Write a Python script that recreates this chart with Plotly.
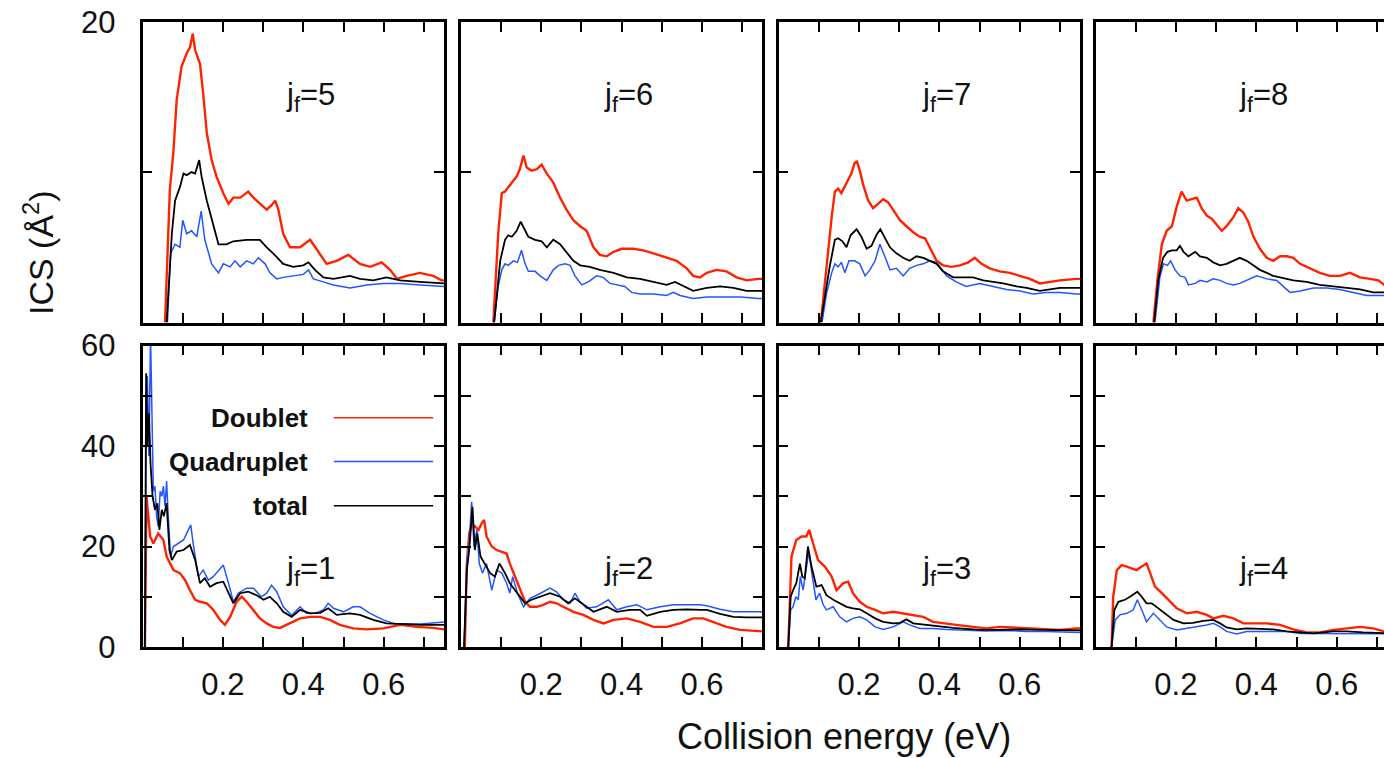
import plotly.graph_objects as go

# Integral cross sections (Å^2) versus collision energy (eV) for each final
# rotational state j_f, split into doublet / quadruplet contributions and total.

# ---------------- j_f = 5 ----------------
j5_doublet_e = [0.056, 0.068, 0.077, 0.085, 0.097, 0.110, 0.118, 0.125, 0.131, 0.143, 0.151, 0.160, 0.172, 0.184,
                0.201, 0.214, 0.226, 0.243, 0.263, 0.276, 0.292, 0.309, 0.321, 0.330, 0.338, 0.350, 0.367, 0.392,
                0.417, 0.433, 0.458, 0.483, 0.512, 0.541, 0.566, 0.595, 0.616, 0.633, 0.657, 0.690, 0.723, 0.744, 0.750]
j5_doublet = [0.0, 8.8, 11.4, 14.8, 17.0, 17.9, 18.3, 19.2, 18.1, 17.2, 15.2, 12.6, 10.8, 9.7,
              8.6, 7.9, 8.3, 8.3, 8.7, 8.3, 7.9, 7.5, 7.8, 8.1, 7.5, 5.9, 5.0, 5.0,
              5.5, 4.9, 3.9, 4.1, 4.5, 3.9, 3.7, 4.0, 3.5, 2.9, 3.1, 3.3, 3.1, 2.8, 2.8]
j5_quad_e = [0.062, 0.070, 0.081, 0.093, 0.100, 0.110, 0.122, 0.135, 0.146, 0.155, 0.172, 0.189, 0.201, 0.218,
             0.230, 0.243, 0.259, 0.276, 0.288, 0.305, 0.317, 0.334, 0.350, 0.375, 0.400, 0.413, 0.425, 0.450,
             0.475, 0.516, 0.558, 0.599, 0.641, 0.690, 0.744, 0.750]
j5_quad = [0.0, 4.6, 5.2, 5.0, 6.8, 5.9, 6.1, 5.7, 7.4, 5.5, 3.9, 3.3, 3.9, 3.7,
           4.1, 3.7, 4.1, 3.9, 4.3, 3.9, 3.3, 2.9, 3.0, 3.1, 3.2, 3.5, 2.9, 2.7,
           2.5, 2.3, 2.5, 2.6, 2.6, 2.5, 2.4, 2.4]
j5_total_e = [0.060, 0.073, 0.081, 0.093, 0.102, 0.110, 0.122, 0.131, 0.141, 0.147, 0.160, 0.176, 0.189, 0.209,
              0.226, 0.259, 0.292, 0.309, 0.325, 0.350, 0.375, 0.400, 0.413, 0.429, 0.450, 0.475, 0.516, 0.541,
              0.574, 0.607, 0.641, 0.690, 0.744, 0.750]
j5_total = [0.0, 5.9, 8.1, 9.0, 9.9, 9.8, 10.0, 9.9, 10.8, 9.7, 8.1, 6.4, 5.2, 5.2,
            5.4, 5.5, 5.5, 5.0, 4.6, 3.9, 3.7, 3.8, 4.0, 3.5, 3.0, 2.9, 3.1, 2.9,
            2.8, 3.0, 2.8, 2.7, 2.6, 2.6]

# ---------------- j_f = 6 ----------------
j6_doublet_e = [0.081, 0.093, 0.102, 0.110, 0.118, 0.127, 0.139, 0.147, 0.156, 0.164, 0.176, 0.189, 0.201, 0.214,
                0.230, 0.247, 0.263, 0.280, 0.297, 0.313, 0.330, 0.346, 0.363, 0.380, 0.400, 0.429, 0.454, 0.479,
                0.512, 0.537, 0.562, 0.578, 0.595, 0.612, 0.636, 0.661, 0.686, 0.711, 0.740, 0.750]
j6_doublet = [0.0, 5.9, 8.6, 8.7, 9.0, 9.3, 9.7, 10.2, 11.1, 10.3, 10.1, 10.2, 10.5, 9.9,
              9.3, 8.3, 7.5, 6.8, 6.4, 6.1, 5.0, 4.5, 4.4, 4.7, 4.9, 4.9, 4.8, 4.6,
              4.3, 4.1, 3.6, 3.1, 3.0, 3.3, 3.5, 3.4, 3.0, 2.8, 2.9, 2.9]
j6_quad_e = [0.083, 0.093, 0.102, 0.110, 0.118, 0.131, 0.141, 0.151, 0.160, 0.168, 0.185, 0.197, 0.214, 0.230,
             0.243, 0.259, 0.272, 0.284, 0.301, 0.317, 0.338, 0.354, 0.371, 0.388, 0.408, 0.425, 0.446, 0.479,
             0.512, 0.529, 0.545, 0.578, 0.612, 0.653, 0.695, 0.740, 0.750]
j6_quad = [0.0, 2.4, 3.5, 3.9, 3.8, 4.1, 4.0, 4.8, 3.9, 3.4, 3.4, 3.1, 2.8, 3.5,
           3.8, 3.9, 3.8, 3.1, 2.5, 2.7, 3.1, 3.0, 2.6, 2.5, 2.4, 2.0, 1.9, 1.9,
           1.8, 2.0, 1.8, 1.6, 1.7, 1.7, 1.7, 1.6, 1.6]
j6_total_e = [0.083, 0.098, 0.110, 0.118, 0.127, 0.139, 0.149, 0.160, 0.168, 0.185, 0.201, 0.214, 0.230, 0.247,
              0.263, 0.280, 0.297, 0.321, 0.346, 0.380, 0.413, 0.446, 0.479, 0.512, 0.533, 0.554, 0.578, 0.612,
              0.645, 0.678, 0.711, 0.740, 0.750]
j6_total = [0.0, 4.1, 5.5, 5.8, 5.7, 6.1, 6.7, 6.1, 5.7, 5.5, 5.4, 5.0, 5.5, 5.2,
            4.7, 4.1, 3.8, 3.7, 3.5, 3.3, 3.0, 2.9, 2.7, 2.5, 2.7, 2.4, 2.1, 2.3,
            2.4, 2.3, 2.1, 2.1, 2.1]

# ---------------- j_f = 7 ----------------
j7_doublet_e = [0.105, 0.119, 0.132, 0.140, 0.148, 0.156, 0.165, 0.173, 0.181, 0.189, 0.195, 0.202, 0.210, 0.223,
                0.235, 0.248, 0.260, 0.272, 0.285, 0.302, 0.318, 0.335, 0.351, 0.364, 0.376, 0.393, 0.409, 0.430,
                0.451, 0.472, 0.488, 0.505, 0.525, 0.550, 0.575, 0.600, 0.625, 0.650, 0.675, 0.700, 0.741, 0.750]
j7_doublet = [0.0, 3.7, 7.0, 8.7, 8.9, 8.6, 9.1, 9.5, 9.9, 10.6, 10.7, 10.1, 9.2, 8.1,
              7.6, 7.9, 8.2, 8.0, 7.5, 6.8, 6.4, 6.0, 5.7, 5.6, 5.0, 4.1, 3.8, 3.7,
              3.8, 4.0, 4.3, 3.9, 3.6, 3.4, 3.3, 3.1, 2.9, 2.6, 2.7, 2.8, 2.9, 2.9]
j7_quad_e = [0.108, 0.119, 0.132, 0.140, 0.148, 0.156, 0.165, 0.175, 0.189, 0.202, 0.215, 0.227, 0.240, 0.252,
             0.264, 0.277, 0.293, 0.310, 0.326, 0.343, 0.360, 0.376, 0.393, 0.401, 0.418, 0.442, 0.467, 0.500,
             0.534, 0.567, 0.600, 0.633, 0.666, 0.700, 0.741, 0.750]
j7_quad = [0.0, 1.9, 3.3, 3.9, 3.7, 4.0, 3.3, 4.1, 4.1, 3.9, 3.1, 3.5, 4.1, 5.2,
           4.4, 3.5, 3.6, 3.1, 3.6, 3.8, 3.9, 4.1, 4.0, 3.7, 3.1, 2.7, 2.4, 2.6,
           2.4, 2.2, 2.1, 1.9, 2.0, 2.0, 1.9, 1.9]
j7_total_e = [0.105, 0.115, 0.127, 0.140, 0.148, 0.159, 0.169, 0.179, 0.194, 0.206, 0.219, 0.231, 0.243, 0.253,
              0.264, 0.277, 0.293, 0.310, 0.326, 0.343, 0.360, 0.376, 0.393, 0.409, 0.434, 0.459, 0.484, 0.509,
              0.534, 0.559, 0.592, 0.617, 0.650, 0.675, 0.700, 0.741, 0.750]
j7_total = [0.0, 1.7, 3.7, 5.5, 5.6, 5.4, 5.0, 5.8, 6.2, 5.7, 4.9, 5.1, 5.8, 6.2,
            5.6, 5.0, 4.6, 4.3, 4.1, 4.4, 4.3, 4.1, 3.9, 3.4, 3.0, 3.0, 3.0, 2.8,
            2.7, 2.6, 2.4, 2.3, 2.1, 2.2, 2.3, 2.3, 2.3]

# ---------------- j_f = 8 ----------------
j8_doublet_e = [0.144, 0.154, 0.165, 0.177, 0.190, 0.202, 0.214, 0.227, 0.239, 0.252, 0.264, 0.277, 0.289, 0.301,
                0.314, 0.326, 0.343, 0.355, 0.368, 0.380, 0.393, 0.409, 0.426, 0.442, 0.459, 0.476, 0.492, 0.509,
                0.534, 0.558, 0.583, 0.608, 0.633, 0.658, 0.683, 0.704, 0.718, 0.750]
j8_doublet = [0.0, 2.8, 5.2, 6.1, 6.4, 7.7, 8.7, 8.1, 8.2, 8.3, 7.6, 7.1, 6.9, 6.5,
              6.1, 6.4, 7.0, 7.6, 7.3, 6.7, 5.7, 4.9, 4.3, 4.1, 4.4, 4.4, 4.3, 3.9,
              3.6, 3.3, 3.1, 3.1, 3.3, 3.0, 2.9, 2.8, 2.5, 2.5]
j8_quad_e = [0.148, 0.160, 0.169, 0.179, 0.187, 0.198, 0.210, 0.223, 0.231, 0.248, 0.260, 0.277, 0.293, 0.310,
             0.326, 0.343, 0.359, 0.376, 0.401, 0.426, 0.451, 0.467, 0.484, 0.509, 0.542, 0.575, 0.608, 0.641,
             0.675, 0.718, 0.750]
j8_quad = [0.0, 3.0, 3.9, 3.8, 4.1, 3.5, 3.1, 3.0, 2.5, 2.6, 2.8, 2.7, 2.9, 2.8,
           2.6, 2.5, 2.6, 2.8, 3.1, 2.9, 2.8, 2.4, 2.0, 2.1, 2.3, 2.3, 2.2, 2.0,
           1.8, 1.8, 1.8]
j8_total_e = [0.146, 0.156, 0.168, 0.179, 0.190, 0.202, 0.210, 0.219, 0.231, 0.248, 0.260, 0.277, 0.293, 0.310,
              0.326, 0.343, 0.359, 0.376, 0.393, 0.409, 0.426, 0.442, 0.459, 0.492, 0.525, 0.558, 0.592, 0.625,
              0.658, 0.691, 0.718, 0.750]
j8_total = [0.0, 2.8, 4.3, 4.7, 4.8, 4.8, 5.1, 4.7, 4.4, 4.7, 4.4, 4.3, 4.0, 3.8,
            3.9, 4.1, 4.3, 4.1, 3.8, 3.5, 3.3, 3.1, 3.0, 2.8, 2.7, 2.5, 2.4, 2.3,
            2.2, 2.0, 2.0, 2.0]

# ---------------- j_f = 1 ----------------
j1_doublet_e = [0.006, 0.010, 0.019, 0.027, 0.039, 0.052, 0.060, 0.068, 0.077, 0.093, 0.106, 0.118, 0.131, 0.143,
                0.160, 0.176, 0.193, 0.205, 0.218, 0.234, 0.247, 0.259, 0.276, 0.292, 0.309, 0.325, 0.342, 0.367,
                0.392, 0.417, 0.442, 0.466, 0.491, 0.524, 0.558, 0.599, 0.641, 0.682, 0.723, 0.750]
j1_doublet = [0.0, 30.0, 22.0, 20.6, 22.6, 21.3, 18.0, 16.6, 15.3, 14.7, 13.3, 11.3, 9.4, 9.0,
              8.7, 7.4, 5.4, 4.4, 6.0, 9.0, 10.0, 9.0, 7.4, 5.7, 4.7, 4.0, 3.8, 4.7,
              5.7, 6.0, 6.0, 5.4, 4.4, 3.7, 3.5, 3.7, 4.4, 4.0, 3.8, 3.5]
j1_quad_e = [0.006, 0.009, 0.012, 0.016, 0.020, 0.023, 0.027, 0.031, 0.035, 0.039, 0.044, 0.048, 0.052, 0.056,
             0.060, 0.064, 0.070, 0.077, 0.089, 0.102, 0.114, 0.120, 0.126, 0.139, 0.151, 0.164, 0.176, 0.189,
             0.201, 0.214, 0.226, 0.238, 0.259, 0.276, 0.296, 0.309, 0.321, 0.334, 0.350, 0.371, 0.392, 0.408,
             0.429, 0.450, 0.462, 0.475, 0.500, 0.524, 0.541, 0.566, 0.599, 0.624, 0.657, 0.690, 0.723, 0.750]
j1_quad = [0.0, 43.0, 54.0, 38.0, 62.0, 50.0, 31.0, 32.0, 26.0, 24.0, 31.0, 30.0, 32.0, 28.0,
           33.0, 26.0, 18.0, 20.0, 20.6, 21.3, 23.3, 24.3, 20.6, 14.0, 15.3, 13.3, 14.0, 15.3,
           16.3, 12.7, 9.0, 10.7, 11.7, 11.7, 10.0, 10.7, 12.3, 11.0, 8.0, 6.3, 8.0, 6.7,
           6.7, 7.4, 8.7, 7.7, 7.0, 8.0, 8.0, 6.7, 5.4, 4.7, 4.7, 4.6, 4.8, 5.0]
j1_total_e = [0.006, 0.009, 0.012, 0.016, 0.020, 0.025, 0.031, 0.037, 0.042, 0.048, 0.053, 0.060, 0.067, 0.073,
              0.085, 0.102, 0.118, 0.131, 0.143, 0.155, 0.168, 0.184, 0.201, 0.218, 0.226, 0.243, 0.263, 0.284,
              0.301, 0.317, 0.334, 0.350, 0.371, 0.392, 0.417, 0.442, 0.462, 0.483, 0.516, 0.541, 0.574, 0.607,
              0.641, 0.690, 0.750]
j1_total = [0.0, 54.5, 40.0, 46.5, 36.5, 30.0, 27.3, 28.6, 23.3, 27.3, 26.0, 28.6, 19.3, 17.3,
            19.0, 19.3, 20.3, 17.3, 12.7, 13.7, 12.0, 12.7, 13.0, 10.0, 8.7, 10.7, 11.0, 10.3,
            9.4, 10.0, 8.7, 7.0, 6.0, 7.4, 6.7, 6.8, 7.7, 6.4, 6.7, 6.4, 5.4, 4.7,
            4.6, 4.4, 4.4]

# ---------------- j_f = 2 ----------------
j2_doublet_e = [0.010, 0.015, 0.021, 0.027, 0.035, 0.044, 0.052, 0.058, 0.064, 0.077, 0.089, 0.102, 0.114, 0.122,
                0.135, 0.147, 0.160, 0.172, 0.189, 0.205, 0.222, 0.238, 0.255, 0.280, 0.305, 0.330, 0.355, 0.380,
                0.413, 0.446, 0.479, 0.512, 0.545, 0.578, 0.603, 0.628, 0.661, 0.695, 0.740, 0.750]
j2_doublet = [0.0, 16.6, 22.6, 24.6, 24.0, 23.3, 24.6, 25.3, 22.0, 20.0, 19.3, 19.0, 18.6, 16.6,
              14.0, 11.3, 9.0, 8.0, 8.0, 8.4, 9.0, 8.7, 8.0, 7.0, 6.4, 5.4, 4.7, 5.4,
              5.7, 5.0, 4.0, 4.0, 4.7, 5.7, 5.7, 5.0, 4.0, 3.4, 3.1, 3.1]
j2_quad_e = [0.008, 0.015, 0.021, 0.027, 0.033, 0.040, 0.046, 0.054, 0.064, 0.077, 0.089, 0.102, 0.114, 0.122,
             0.129, 0.141, 0.156, 0.172, 0.189, 0.205, 0.222, 0.238, 0.255, 0.272, 0.284, 0.297, 0.313, 0.338,
             0.367, 0.388, 0.413, 0.438, 0.463, 0.496, 0.529, 0.562, 0.595, 0.612, 0.645, 0.678, 0.711, 0.740, 0.750]
j2_quad = [0.0, 16.6, 20.6, 28.9, 20.0, 23.3, 16.6, 14.7, 16.6, 11.3, 15.3, 14.7, 12.7, 10.7,
           14.0, 10.7, 8.0, 9.7, 10.3, 11.0, 11.7, 11.0, 9.4, 8.7, 10.7, 9.0, 7.7, 8.0,
           9.4, 7.4, 8.0, 8.4, 7.4, 8.0, 8.4, 8.4, 8.4, 8.2, 7.5, 7.0, 7.0, 7.0, 7.0]
j2_total_e = [0.008, 0.015, 0.021, 0.029, 0.035, 0.041, 0.049, 0.060, 0.073, 0.085, 0.096, 0.110, 0.122, 0.135,
              0.147, 0.160, 0.176, 0.197, 0.222, 0.247, 0.267, 0.284, 0.305, 0.330, 0.363, 0.388, 0.421, 0.446,
              0.463, 0.496, 0.529, 0.562, 0.595, 0.612, 0.645, 0.678, 0.711, 0.740, 0.750]
j2_total = [0.0, 15.3, 19.3, 27.9, 19.3, 22.6, 18.0, 16.6, 14.7, 14.0, 16.6, 14.7, 12.7, 11.3,
            10.0, 8.7, 9.4, 10.0, 10.7, 10.0, 8.7, 9.7, 8.4, 7.0, 8.0, 7.0, 7.4, 7.4,
            6.2, 7.0, 7.4, 7.5, 7.4, 7.4, 6.6, 6.0, 5.9, 5.9, 5.9]

# ---------------- j_f = 3 ----------------
j3_doublet_e = [0.024, 0.032, 0.044, 0.057, 0.069, 0.076, 0.086, 0.098, 0.115, 0.132, 0.144, 0.161, 0.173, 0.185,
                0.202, 0.219, 0.240, 0.260, 0.285, 0.310, 0.335, 0.360, 0.384, 0.409, 0.442, 0.484, 0.517, 0.550,
                0.600, 0.650, 0.700, 0.741, 0.750]
j3_doublet = [0.0, 18.0, 21.3, 22.0, 22.0, 23.3, 20.6, 17.3, 16.0, 14.0, 11.3, 12.7, 13.0, 10.7,
              9.0, 8.0, 7.4, 6.7, 7.0, 6.7, 6.4, 6.0, 5.0, 4.7, 4.4, 4.0, 3.7, 4.0,
              3.8, 3.5, 3.4, 3.7, 3.7]
j3_quad_e = [0.024, 0.030, 0.036, 0.043, 0.049, 0.054, 0.061, 0.068, 0.075, 0.084, 0.093, 0.102, 0.111, 0.119,
             0.136, 0.152, 0.169, 0.185, 0.202, 0.219, 0.240, 0.260, 0.285, 0.310, 0.326, 0.351, 0.384, 0.418,
             0.451, 0.484, 0.517, 0.567, 0.617, 0.666, 0.741, 0.750]
j3_quad = [0.0, 7.4, 8.0, 10.0, 9.4, 14.0, 11.3, 14.7, 19.0, 14.0, 9.4, 10.7, 8.4, 7.4,
           8.0, 6.0, 5.0, 5.7, 6.0, 5.4, 4.0, 3.5, 4.0, 5.0, 4.4, 3.7, 3.7, 3.5,
           3.4, 3.3, 3.2, 3.3, 3.1, 3.1, 2.9, 2.9]
j3_total_e = [0.024, 0.030, 0.036, 0.044, 0.053, 0.059, 0.065, 0.073, 0.082, 0.094, 0.107, 0.119, 0.136, 0.152,
              0.169, 0.185, 0.202, 0.219, 0.240, 0.260, 0.285, 0.302, 0.318, 0.335, 0.368, 0.401, 0.434, 0.467,
              0.500, 0.550, 0.600, 0.650, 0.700, 0.741, 0.750]
j3_total = [0.0, 10.0, 11.3, 12.7, 16.6, 14.0, 13.7, 20.0, 16.0, 12.0, 12.3, 10.3, 9.4, 8.7,
            8.0, 7.7, 7.5, 6.7, 5.7, 5.0, 4.7, 4.8, 5.5, 4.7, 4.4, 4.0, 3.8, 3.6,
            3.4, 3.4, 3.5, 3.4, 3.4, 3.3, 3.3]

# ---------------- j_f = 4 ----------------
j4_doublet_e = [0.040, 0.044, 0.053, 0.065, 0.078, 0.090, 0.102, 0.115, 0.127, 0.136, 0.148, 0.165, 0.181, 0.202,
                0.227, 0.252, 0.277, 0.293, 0.318, 0.343, 0.368, 0.393, 0.426, 0.459, 0.492, 0.525, 0.558, 0.592,
                0.625, 0.658, 0.691, 0.718, 0.750]
j4_doublet = [0.0, 10.0, 15.3, 16.3, 16.0, 15.7, 15.3, 16.0, 16.6, 14.7, 12.0, 10.7, 9.4, 7.7,
              6.7, 7.0, 6.4, 5.7, 6.2, 5.7, 4.7, 4.7, 4.7, 4.4, 3.5, 2.9, 2.9, 3.4,
              3.7, 4.0, 3.7, 3.1, 3.0]
j4_quad_e = [0.040, 0.049, 0.061, 0.078, 0.094, 0.104, 0.115, 0.127, 0.144, 0.160, 0.177, 0.202, 0.227, 0.252,
             0.277, 0.293, 0.310, 0.326, 0.351, 0.376, 0.409, 0.442, 0.476, 0.509, 0.542, 0.592, 0.625, 0.666,
             0.718, 0.750]
j4_quad = [0.0, 5.4, 6.4, 6.7, 7.4, 9.4, 7.4, 5.0, 6.7, 5.4, 4.0, 3.4, 3.7, 4.0,
           4.4, 4.7, 4.0, 3.1, 2.6, 3.1, 3.1, 3.1, 3.1, 2.7, 2.7, 2.7, 2.7, 2.7,
           2.6, 2.6]
j4_total_e = [0.040, 0.047, 0.057, 0.073, 0.086, 0.104, 0.115, 0.127, 0.140, 0.156, 0.177, 0.194, 0.219, 0.243,
              0.268, 0.293, 0.310, 0.326, 0.351, 0.376, 0.409, 0.442, 0.476, 0.509, 0.542, 0.592, 0.625, 0.666,
              0.718, 0.750]
j4_total = [0.0, 7.4, 9.0, 9.4, 10.0, 11.0, 10.0, 8.7, 8.7, 7.7, 6.4, 5.4, 4.7, 4.8,
            5.2, 5.4, 4.7, 3.9, 3.5, 3.7, 3.6, 3.5, 3.1, 2.9, 2.7, 3.1, 3.1, 2.9,
            2.7, 2.7]

# Legend entries, panel order and tick layout
series_names = ["Doublet", "Quadruplet", "total"]
top_states = [5, 6, 7, 8]
bottom_states = [1, 2, 3, 4]
x_major = [0.2, 0.4, 0.6]
x_minor = [0.1, 0.3, 0.5, 0.7]
top_y_major = [20]
top_y_minor = [10]
bottom_y_major = [0, 20, 40, 60]
bottom_y_minor = [10, 30, 50]

DATA = {
    5: [(j5_doublet_e, j5_doublet), (j5_quad_e, j5_quad), (j5_total_e, j5_total)],
    6: [(j6_doublet_e, j6_doublet), (j6_quad_e, j6_quad), (j6_total_e, j6_total)],
    7: [(j7_doublet_e, j7_doublet), (j7_quad_e, j7_quad), (j7_total_e, j7_total)],
    8: [(j8_doublet_e, j8_doublet), (j8_quad_e, j8_quad), (j8_total_e, j8_total)],
    1: [(j1_doublet_e, j1_doublet), (j1_quad_e, j1_quad), (j1_total_e, j1_total)],
    2: [(j2_doublet_e, j2_doublet), (j2_quad_e, j2_quad), (j2_total_e, j2_total)],
    3: [(j3_doublet_e, j3_doublet), (j3_quad_e, j3_quad), (j3_total_e, j3_total)],
    4: [(j4_doublet_e, j4_doublet), (j4_quad_e, j4_quad), (j4_total_e, j4_total)],
}

# ---------------- styling / layout geometry ----------------
W, H = 1384, 758
FONT = "Liberation Sans, Arial, Helvetica, sans-serif"
COLORS = ["#ff2200", "#2255ff", "#000000"]
WIDTHS = [2.4, 1.5, 1.8]
PX_PER_EV = 402.0
E_MAX = 0.75
COL_LEFT_PX = [142.5, 460.8, 778.6, 1095.5]
ROW_PX = [(21.7, 322.5), (345.5, 647.0)]   # (top, bottom) pixel edges of each row

fig = go.Figure()
layout = {}
annotations = []

panels = [(jf, 0, c) for c, jf in enumerate(top_states)] + [(jf, 1, c) for c, jf in enumerate(bottom_states)]

for idx, (jf, row, col) in enumerate(panels):
    n = idx + 1
    xa, ya = f"x{n}", f"y{n}"
    left = COL_LEFT_PX[col]
    right = min(left + E_MAX * PX_PER_EV, W)
    x_range = [0, (right - left) / PX_PER_EV]
    top_px, bot_px = ROW_PX[row]
    last_col = col == 3

    for k, (e_vals, s_vals) in enumerate(DATA[jf]):
        fig.add_trace(go.Scatter(
            x=e_vals, y=s_vals, mode="lines", xaxis=xa, yaxis=ya,
            line=dict(color=COLORS[k], width=WIDTHS[k]),
            name=series_names[k], showlegend=False,
        ))

    common = dict(showline=True, linecolor="black", linewidth=2.6,
                  ticks="inside", ticklen=10, tickwidth=2, tickcolor="black",
                  showgrid=False, zeroline=False, fixedrange=True, automargin=False,
                  tickfont=dict(family=FONT, size=31, color="#111111"))
    minor_style = dict(ticks="inside", ticklen=10, tickwidth=2, tickcolor="black", showgrid=False)

    layout[f"xaxis{n}"] = dict(
        common, domain=[left / W, right / W], range=x_range, anchor=ya,
        mirror="ticks", tickmode="array", tickvals=x_major,
        ticktext=[f"{v:.1f}" for v in x_major],
        minor=dict(minor_style, tickvals=x_minor),
        showticklabels=(row == 1), ticklabelstandoff=8,
    )
    if row == 0:
        yv, ym, yr = top_y_major, top_y_minor, [0, 20]
    else:
        yv, ym, yr = bottom_y_major, bottom_y_minor, [0, 60]
    layout[f"yaxis{n}"] = dict(
        common, domain=[(H - bot_px) / H, (H - top_px) / H], range=yr, anchor=xa,
        mirror=(False if last_col else "ticks"), tickmode="array",
        tickvals=yv, ticktext=[str(v) for v in yv],
        minor=dict(minor_style, tickvals=ym),
        showticklabels=(col == 0), ticklabelstandoff=18,
    )

    label_y = 15.0 if row == 0 else 15.2
    annotations.append(dict(
        xref=xa, yref=ya, x=0.417, y=label_y, text=f"j<sub>f</sub>={jf}",
        showarrow=False, xanchor="center", yanchor="middle",
        font=dict(family=FONT, size=31, color="#111111"),
    ))

# Legend inside the j_f = 1 panel: bold name followed by a line sample
legend_axis = 5
legend_y = [45.6, 36.9, 28.1]
shapes = []
for k, name in enumerate(series_names):
    annotations.append(dict(
        xref=f"x{legend_axis}", yref=f"y{legend_axis}", x=0.417, y=legend_y[k],
        text=f"<b>{name}</b>", showarrow=False, xanchor="right", yanchor="middle",
        font=dict(family=FONT, size=26, color="#111111"),
    ))
    shapes.append(dict(
        type="line", xref=f"x{legend_axis}", yref=f"y{legend_axis}",
        x0=0.476, x1=0.723, y0=legend_y[k], y1=legend_y[k],
        line=dict(color=COLORS[k], width=1.5),
    ))

# Shared axis titles
annotations.append(dict(
    xref="paper", yref="paper", x=38 / W, y=(H - 253) / H, textangle=-90,
    text="ICS (Å<sup>2</sup>)", showarrow=False, xanchor="center", yanchor="middle",
    font=dict(family=FONT, size=34, color="#111111"),
))
annotations.append(dict(
    xref="paper", yref="paper", x=844 / W, y=(H - 736) / H,
    text="Collision energy (eV)", showarrow=False, xanchor="center", yanchor="middle",
    font=dict(family=FONT, size=36, color="#111111"),
))

fig.update_layout(
    width=W, height=H,
    margin=dict(l=0, r=0, t=0, b=0, autoexpand=False),
    paper_bgcolor="white", plot_bgcolor="white",
    showlegend=False,
    annotations=annotations, shapes=shapes,
    **layout,
)

fig.write_html("out.html", config={"displayModeBar": False})
